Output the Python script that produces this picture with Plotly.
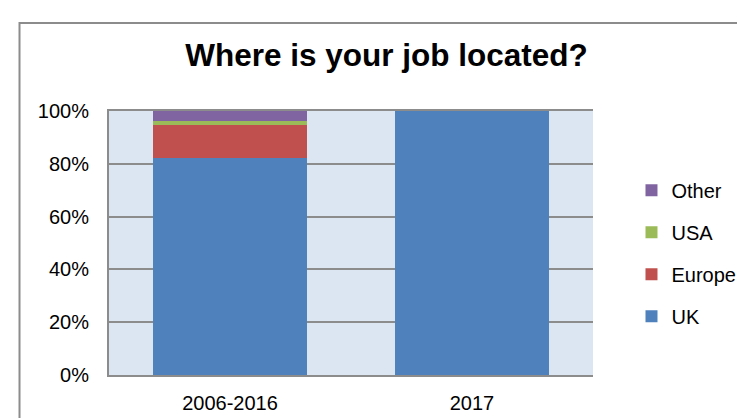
import plotly.graph_objects as go

categories = ["2006-2016", "2017"]
series_names = ["UK", "Europe", "USA", "Other"]
uk = [0.821, 1.0]
europe = [0.125, 0.0]
usa = [0.018, 0.0]
other = [0.036, 0.0]
colors = ["#4F81BD", "#C0504D", "#9BBB59", "#8064A2"]
legend_ranks = [4, 3, 2, 1]
ytick_vals = [0, 0.2, 0.4, 0.6, 0.8, 1.0]

fig = go.Figure()
for name, vals, col, rk in zip(series_names, [uk, europe, usa, other], colors, legend_ranks):
    fig.add_trace(go.Bar(x=categories, y=vals, name=name, marker_color=col,
                         marker_line_width=0, legendgroup=name, legendrank=rk))

W, H = 745, 418
L, R, T, B = 101, 141, 103, 45
pw, ph = W - L - R, H - T - B
FONT = "Liberation Sans, Arial, sans-serif"

fig.update_layout(
    width=W, height=H,
    barmode="stack", bargap=0.36,
    margin=dict(l=L, r=R, t=T, b=B),
    paper_bgcolor="white", plot_bgcolor="#DCE6F2",
    font=dict(family=FONT, size=20, color="black"),
    title=dict(text="<b>Where is your job located?</b>", x=378.5 / W, xanchor="center",
               y=1 - 47 / H, yanchor="middle",
               font=dict(size=31.5, family=FONT)),
    legend=dict(traceorder="grouped", tracegroupgap=13,
                x=1 + (644 - (W - R)) / pw, xanchor="left",
                y=1 - (164 - T) / ph, yanchor="top",
                font=dict(size=20), itemwidth=30, bgcolor="rgba(0,0,0,0)"),
    showlegend=True,
    xaxis=dict(showline=True, mirror=True, linecolor="#8C8C8C", linewidth=2,
               ticks="", showgrid=False, tickfont=dict(size=20),
               ticklabelstandoff=9),
    yaxis=dict(range=[0, 1], tickvals=ytick_vals, tickformat=".0%",
               showline=True, linecolor="#8C8C8C", linewidth=2,
               gridcolor="#8C8C8C", gridwidth=2, ticks="",
               tickfont=dict(size=20), zeroline=False, ticklabelstandoff=14),
    shapes=[dict(type="rect", xref="paper", yref="paper",
                 x0=(8 - L) / pw, x1=(W + 10 - L) / pw,
                 y0=-(H + 10 - (H - B)) / ph, y1=1 + (T - 13) / ph,
                 line=dict(color="#8C8C8C", width=2), fillcolor="rgba(0,0,0,0)",
                 layer="below")],
)

fig.write_html("out.html")
